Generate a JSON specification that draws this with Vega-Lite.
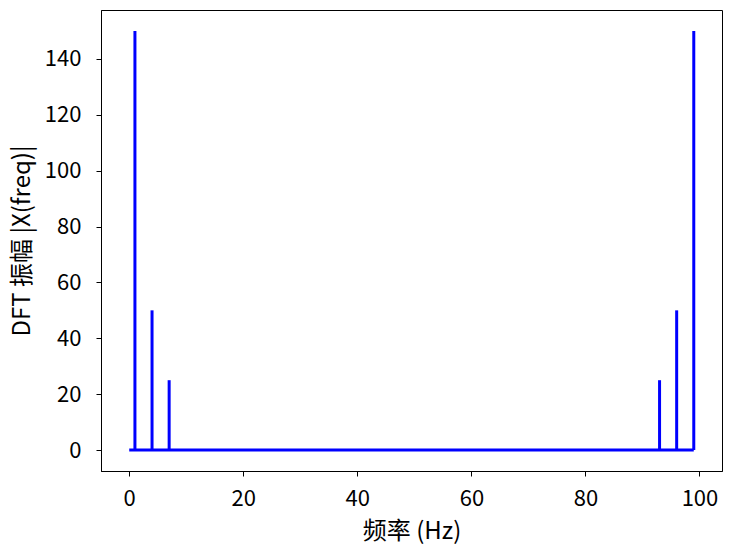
{
  "$schema": "https://vega.github.io/schema/vega-lite/v6.json",
  "width": 621,
  "height": 461,
  "autosize": "none",
  "padding": {"left": 101, "top": 10, "right": 9, "bottom": 85},
  "background": "white",
  "config": {
    "font": "Noto Sans CJK SC",
    "view": {"stroke": "black", "strokeWidth": 1},
    "axis": {
      "grid": false,
      "domainColor": "black",
      "tickColor": "black",
      "tickSize": 5,
      "labelFontSize": 22,
      "labelColor": "black",
      "titleFontSize": 24,
      "titleFontWeight": "normal",
      "titleColor": "black",
      "labelFont": "Noto Sans CJK SC",
      "titleFont": "Noto Sans CJK SC"
    }
  },
  "datasets": {
    "stems": [
      {"freq": 1, "amp": 150},
      {"freq": 4, "amp": 50},
      {"freq": 7, "amp": 25},
      {"freq": 93, "amp": 25},
      {"freq": 96, "amp": 50},
      {"freq": 99, "amp": 150}
    ],
    "base": [
      {"start": 0, "end": 99, "level": 0}
    ]
  },
  "layer": [
    {
      "data": {"name": "stems"},
      "mark": {"type": "rule", "color": "#0000ff", "strokeWidth": 3},
      "encoding": {
        "x": {
          "field": "freq", "type": "quantitative",
          "scale": {"domain": [-4.95, 103.95], "nice": false, "zero": false},
          "axis": {"values": [0, 20, 40, 60, 80, 100], "title": "频率 (Hz)", "labelPadding": 12, "titlePadding": 10}
        },
        "y": {
          "field": "amp", "type": "quantitative",
          "scale": {"domain": [-7.5, 157.5], "nice": false, "zero": false},
          "axis": {"values": [0, 20, 40, 60, 80, 100, 120, 140], "title": "DFT 振幅 |X(freq)|", "labelPadding": 15, "titlePadding": 10}
        },
        "y2": {"datum": 0}
      }
    },
    {
      "data": {"name": "base"},
      "mark": {"type": "rule", "color": "#0000ff", "strokeWidth": 3},
      "encoding": {
        "x": {"field": "start", "type": "quantitative"},
        "x2": {"field": "end"},
        "y": {"field": "level", "type": "quantitative"}
      }
    }
  ]
}
